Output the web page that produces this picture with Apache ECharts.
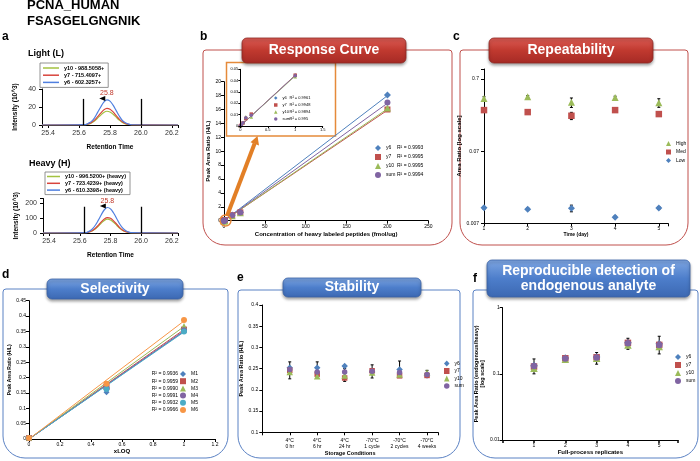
<!DOCTYPE html>
<html>
<head>
<meta charset="utf-8">
<title>PCNA_HUMAN FSASGELGNGNIK</title>
<script src="https://cdn.jsdelivr.net/npm/echarts@6.0.0/dist/echarts.min.js"></script>
<style>
html, body { margin: 0; padding: 0; background: #fff; }
#chart { width: 700px; height: 461px; }
</style>
</head>
<body>
<div id="chart"></div>
<script>
var FONT = '"Liberation Sans", Arial, Helvetica, sans-serif';
var BLUE = '#4f81bd', RED = '#c0504d', GREEN = '#9bbb59', PURPLE = '#8064a2', AQUA = '#4bacc6', ORANGE = '#f79646';

// a - chromatograms, intensity in 10^3
var rtX = [25.36, 25.64, 25.66, 25.68, 25.70, 25.72, 25.74, 25.76, 25.78, 25.80, 25.82, 25.84, 25.86, 25.88, 25.90, 25.92, 25.94, 26.24];
var lightY10 = [0, 0.3, 1, 2.3, 4.5, 7.6, 11, 14, 15.3, 14.5, 12, 8.7, 5.4, 2.9, 1.3, 0.6, 0.2, 0];
var lightY7 = [0, 0.4, 1.3, 2.8, 5.4, 9.2, 13.3, 16.8, 18.5, 17.6, 14.5, 10.5, 6.5, 3.5, 1.6, 0.7, 0.2, 0];
var lightY6 = [0, 0.5, 2, 4, 8, 14, 20, 25.5, 28, 26.5, 22, 16, 10, 5, 2.5, 1, 0.3, 0];
var heavyY10 = [0, 2, 6, 13, 27, 45, 66, 84, 92, 87, 72, 52, 32, 17, 8, 3, 1, 0];
var heavyY7 = [0, 2, 7, 15, 30, 51, 74, 94, 103, 98, 81, 59, 36, 19, 9, 4, 1, 0];
var heavyY6 = [0, 3, 11, 25, 50, 84, 122, 155, 170, 161, 133, 97, 60, 32, 15, 6, 2, 0];
var lightNames = ['y10 - 988.5058+', 'y7 - 715.4097+', 'y6 - 602.3257+'];
var heavyNames = ['y10 - 996.5200+ (heavy)', 'y7 - 723.4239+ (heavy)', 'y6 - 610.3398+ (heavy)'];
var chromColors = ['#a3c240', '#d8443c', '#4f7fdf'];
var peakRT = 25.78;
var boundaryRT = [25.63, 26.0];

// b - response curve
var bConc = [0, 0.02, 0.05, 0.1, 0.2, 1, 10, 20, 200];
var bY6 = [0, 0.001, 0.0028, 0.0070, 0.0098, 0.0450, 0.82, 1.22, 18.1];
var bY7 = [0, 0.001, 0.0027, 0.0065, 0.0105, 0.0448, 0.78, 1.20, 16.0];
var bY10 = [0, 0.0012, 0.0030, 0.0082, 0.0080, 0.0435, 0.70, 1.14, 16.2];
var bSum = [0, 0.001, 0.0028, 0.0072, 0.0095, 0.0444, 0.77, 1.19, 17.0];
var bNames = ['y6', 'y7', 'y10', 'sum'];
var bR2 = ['0.9993', '0.9995', '0.9995', '0.9994'];
var bInsetR2 = ['0.9961', '0.9948', '0.9894', '0.995'];
var bFitX = [0, 200];
var bFitEnd = [18.0, 15.9, 16.1, 16.9];
var bInsetFitX = [0, 1];
var bInsetFitEnd = [0.0447, 0.0448, 0.0440, 0.0445];

// c - repeatability (log scale)
var cDays = [1, 2, 3, 4, 5];
var cHigh = [0.378, 0.398, 0.333, 0.390, 0.329];
var cMed = [0.260, 0.244, 0.217, 0.260, 0.229];
var cLow = [0.0115, 0.0110, 0.0113, 0.0085, 0.0114];
var cHighErr = [0.02, 0.015, 0.05, 0.015, 0.045];
var cMedErr = [0.01, 0.01, 0.025, 0.01, 0.012];
var cLowErr = [0.0005, 0.0004, 0.0012, 0.0003, 0.0005];

// d - selectivity
var dLOQ = [0, 0.5, 1];
var dM1 = [0.003, 0.152, 0.352];
var dM2 = [0.003, 0.170, 0.356];
var dM3 = [0.003, 0.176, 0.368];
var dM4 = [0.003, 0.165, 0.354];
var dM5 = [0.003, 0.163, 0.350];
var dM6 = [0.003, 0.180, 0.387];
var dNames = ['M1', 'M2', 'M3', 'M4', 'M5', 'M6'];
var dR2 = ['0.9936', '0.9959', '0.9990', '0.9991', '0.9932', '0.9966'];
var dFitX = [0, 1];
var dFitEnd = [0.350, 0.356, 0.366, 0.352, 0.348, 0.384];

// e - stability
var eConds = ['4°C\n0 hr', '4°C\n6 hr', '4°C\n24 hr', '-70°C\n1 cycle', '-70°C\n2 cycles', '-70°C\n4 weeks'];
var ePos = [1, 2, 3, 4, 5, 6];
var eY6 = [0.252, 0.252, 0.256, 0.242, 0.248, 0.234];
var eY7 = [0.246, 0.237, 0.228, 0.245, 0.233, 0.234];
var eY10 = [0.242, 0.232, 0.234, 0.241, 0.236, 0.241];
var eSum = [0.248, 0.242, 0.242, 0.244, 0.241, 0.236];
var eErrLo = [0.226, 0.237, 0.220, 0.228, 0.230, 0.230];
var eErrHi = [0.266, 0.266, 0.250, 0.259, 0.268, 0.246];

// f - endogenous analyte (log scale)
var fRep = [1, 2, 3, 4, 5];
var fY6 = [0.133, 0.173, 0.179, 0.297, 0.284];
var fY7 = [0.129, 0.172, 0.178, 0.294, 0.274];
var fY10 = [0.122, 0.166, 0.172, 0.274, 0.258];
var fSum = [0.131, 0.171, 0.177, 0.290, 0.272];
var fErrLo = [0.100, 0.158, 0.140, 0.235, 0.200];
var fErrHi = [0.168, 0.182, 0.210, 0.345, 0.370];

var symbolOf = { y6: 'diamond', y7: 'rect', y10: 'triangle', sum: 'circle' };
var colorOf = { y6: BLUE, y7: RED, y10: GREEN, sum: PURPLE };
var sizeOf = { y6: 7, y7: 6, y10: 7, sum: 6 };

function zip(xs, ys) {
    return xs.map(function(x, i) { return [x, ys[i]]; });
}
function logC(v) { return Math.log10(v / 0.007); }
function logF(v) { return Math.log10(v / 0.01); }
function isInt(v) { return Math.abs(v - Math.round(v)) < 1e-6; }
function stripName(name) { return name.split('|')[1]; }

function ax(gi, o) {
    var a = {
        gridIndex: gi, type: 'value',
        axisLine: { show: true, onZero: false, lineStyle: { color: '#000', width: 1 } },
        axisTick: { show: true, length: 3, lineStyle: { color: '#000' } },
        splitLine: { show: false },
        axisLabel: { fontSize: 5, color: '#000', margin: 3 },
        nameLocation: 'middle',
        nameTextStyle: { fontSize: 6, fontWeight: 'bold', color: '#000' }
    };
    for (var k in o) {
        if (o[k] && typeof o[k] === 'object' && !Array.isArray(o[k]) && a[k]) Object.assign(a[k], o[k]);
        else a[k] = o[k];
    }
    return a;
}

function errSeries(gi, xs, lo, hi, cap) {
    return {
        type: 'custom', xAxisIndex: gi, yAxisIndex: gi, z: 1, silent: true,
        data: xs.map(function(x, i) { return [x, lo[i], hi[i]]; }),
        renderItem: function(params, api) {
            var p = api.coord([api.value(0), api.value(1)]);
            var q = api.coord([api.value(0), api.value(2)]);
            var st = { stroke: '#000', lineWidth: 1 };
            return { type: 'group', children: [
                { type: 'line', shape: { x1: p[0], y1: p[1], x2: q[0], y2: q[1] }, style: st },
                { type: 'line', shape: { x1: p[0] - cap, y1: p[1], x2: p[0] + cap, y2: p[1] }, style: st },
                { type: 'line', shape: { x1: q[0] - cap, y1: q[1], x2: q[0] + cap, y2: q[1] }, style: st }
            ] };
        }
    };
}

function scat(gi, name, key, data, size) {
    return {
        type: 'scatter', name: name, xAxisIndex: gi, yAxisIndex: gi, z: 3,
        symbol: symbolOf[key], symbolSize: size || sizeOf[key],
        itemStyle: { color: colorOf[key], opacity: 1 },
        data: data
    };
}

function trend(gi, data, color, w) {
    return {
        type: 'line', xAxisIndex: gi, yAxisIndex: gi, z: 2, silent: true,
        showSymbol: false, symbol: 'none', data: data,
        lineStyle: { color: color, width: w || 1 }
    };
}

var grids = [
    { left: 42, top: 89, width: 136, height: 36 },
    { left: 43, top: 198.5, width: 135, height: 34.5 },
    { left: 224, top: 81.7, width: 204.3, height: 139 },
    { left: 240.3, top: 69.3, width: 82.4, height: 56.7 },
    { left: 484, top: 69, width: 184, height: 154.3 },
    { left: 29, top: 300.7, width: 186, height: 138.3 },
    { left: 262.3, top: 305, width: 175.7, height: 127.3 },
    { left: 502.7, top: 307.7, width: 175.3, height: 132.3 }
];

var rtLabel = function(v) { return isInt(v * 5) && v > 25.37 && v < 26.23 ? v.toFixed(1) : ''; };

var xAxes = [
    ax(0, { min: 25.36, max: 26.24, axisLabel: { fontSize: 7, color: '#333', margin: 5, formatter: rtLabel }, name: 'Retention Time', nameGap: 19, nameTextStyle: { fontSize: 6.5 } }),
    ax(1, { min: 25.36, max: 26.24, axisLabel: { fontSize: 7, color: '#333', margin: 5, formatter: rtLabel }, name: 'Retention Time', nameGap: 19, nameTextStyle: { fontSize: 6.5 } }),
    ax(2, { min: 0, max: 250, interval: 50, name: 'Concentration of heavy labeled peptides (fmol/ug)', nameGap: 11 }),
    ax(3, { z: 6, min: 0, max: 1.5, interval: 0.5, axisLabel: { fontSize: 4, margin: 2 }, axisTick: { length: 2 } }),
    ax(4, { min: 1, max: 5.21, interval: 1, axisLabel: { formatter: function(v) { return isInt(v) ? v : ''; } }, name: 'Time (day)', nameGap: 6, nameTextStyle: { fontSize: 5 } }),
    ax(5, { min: 0, max: 1.2, interval: 0.2, axisLabel: { formatter: function(v) { return +v.toFixed(1); } }, name: 'xLOQ', nameGap: 7 }),
    ax(6, { min: 0, max: 6.4, interval: 1, axisLabel: { margin: 5, lineHeight: 6, formatter: function(v) { var i = Math.round(v); return isInt(v) && i >= 1 && i <= 6 ? eConds[i - 1] : ''; } }, name: 'Storage Conditions', nameGap: 17, nameTextStyle: { fontSize: 5.5 } }),
    ax(7, { min: 0, max: 5.6, interval: 1, axisTick: { length: 3, lineStyle: { width: 1.5 } }, axisLabel: { formatter: function(v) { return isInt(v) && v >= 1 ? v : ''; } }, name: 'Full-process replicates', nameGap: 8 })
];

var yAxes = [
    ax(0, { min: 0, max: 40, interval: 20, axisLabel: { fontSize: 7, color: '#333', margin: 6 }, name: 'Intensity (10^3)', nameGap: 23, nameTextStyle: { fontSize: 6.5 } }),
    ax(1, { min: 0, max: 230, interval: 100, axisLabel: { fontSize: 7, color: '#333', margin: 6, formatter: function(v) { return v % 100 === 0 ? v : ''; } }, name: 'Intensity (10^3)', nameGap: 23, nameTextStyle: { fontSize: 6.5 } }),
    ax(2, { min: 0, max: 20, interval: 2, name: 'Peak Area Ratio (H/L)', nameGap: 12 }),
    ax(3, { z: 6, min: 0, max: 0.05, interval: 0.01, axisLabel: { fontSize: 4, margin: 2, formatter: function(v) { return +v.toFixed(2); } }, axisTick: { length: 2 } }),
    ax(4, { min: 0, max: 2.14, interval: 1, axisLabel: { margin: 5, formatter: function(v) { return isInt(v) ? +(0.007 * Math.pow(10, Math.round(v))).toPrecision(1) : ''; } }, name: 'Area Ratio [log scale]', nameGap: 17 }),
    ax(5, { min: 0, max: 0.45, interval: 0.05, axisLabel: { formatter: function(v) { return +v.toFixed(2); } }, name: 'Peak Area Ratio (H/L)', nameGap: 15, nameTextStyle: { fontSize: 5 } }),
    ax(6, { min: 0.1, max: 0.4, interval: 0.05, axisLabel: { margin: 4, formatter: function(v) { return +v.toFixed(2); } }, name: 'Peak Area Ratio (H/L)', nameGap: 15, nameTextStyle: { fontSize: 5.5 } }),
    ax(7, { min: 0, max: 2, interval: 1, axisLabel: { formatter: function(v) { return isInt(v) ? +(0.01 * Math.pow(10, Math.round(v))).toPrecision(1) : ''; } }, name: 'Peak Area Ratio (endogenous/heavy)\n[log scale]', nameGap: 9, nameTextStyle: { fontSize: 5.5, lineHeight: 6.5 } })
];

var series = [];

// a: chromatograms
function chrom(gi, prefix, names, ys, boundTop, peakVal, triY, labelDist) {
    ys.forEach(function(y, i) {
        var s = {
            type: 'line', name: prefix + '|' + names[i], xAxisIndex: gi, yAxisIndex: gi,
            data: zip(rtX, y), smooth: 0.35, showSymbol: false, symbol: 'none',
            lineStyle: { color: chromColors[i], width: 1.2 }, itemStyle: { color: chromColors[i] }
        };
        if (i === 0) {
            s.markLine = {
                silent: true, symbol: ['none', 'none'], label: { show: false },
                lineStyle: { color: '#000', width: 1.3, type: 'solid' },
                data: boundaryRT.map(function(b) { return [{ coord: [b, 0] }, { coord: [b, boundTop] }]; })
            };
        }
        if (i === 2) {
            s.markPoint = {
                silent: true,
                data: [
                    { coord: [peakRT, peakVal], symbol: 'circle', symbolSize: 1, itemStyle: { color: 'rgba(0,0,0,0)' },
                      label: { show: true, position: 'top', distance: labelDist, formatter: '25.8', color: '#c0392b', fontSize: 7 } },
                    { coord: [25.75, triY], symbol: 'triangle', symbolRotate: 90, symbolSize: [5, 6], itemStyle: { color: '#000' }, label: { show: false } }
                ]
            };
        }
        series.push(s);
    });
}
chrom(0, 'L', lightNames, [lightY10, lightY7, lightY6], 29, 28, 29.4, 3);
chrom(1, 'H', heavyNames, [heavyY10, heavyY7, heavyY6], 175, 170, 180, 2);

// b: response curve + inset
var bVals = [bY6, bY7, bY10, bSum];
bNames.forEach(function(k, i) {
    series.push(trend(2, [[bFitX[0], 0], [bFitX[1], bFitEnd[i]]], colorOf[k], 1));
    series.push(scat(2, 'b|' + k, k, zip(bConc, bVals[i])));
});
bNames.forEach(function(k, i) {
    series.push(trend(3, [[bInsetFitX[0], 0], [bInsetFitX[1], bInsetFitEnd[i]]], colorOf[k], 0.7));
    series.push(scat(3, 'bi|' + k, k, zip(bConc, bVals[i]).filter(function(p) { return p[0] <= 1.5; }), 3.5));
});

// c: repeatability
function cErr(vals, errs, sign) {
    return vals.map(function(v, i) { return logC(v + sign * errs[i]); });
}
series.push(errSeries(4, cDays, cErr(cHigh, cHighErr, -1), cErr(cHigh, cHighErr, 1), 1.5));
series.push(errSeries(4, cDays, cErr(cMed, cMedErr, -1), cErr(cMed, cMedErr, 1), 1.5));
series.push(errSeries(4, cDays, cErr(cLow, cLowErr, -1), cErr(cLow, cLowErr, 1), 1.5));
series.push({ type: 'scatter', name: 'c|High', xAxisIndex: 4, yAxisIndex: 4, z: 3, symbol: 'triangle', symbolSize: 7, itemStyle: { color: GREEN, opacity: 1 }, data: zip(cDays, cHigh.map(logC)) });
series.push({ type: 'scatter', name: 'c|Med', xAxisIndex: 4, yAxisIndex: 4, z: 3, symbol: 'rect', symbolSize: 6.5, itemStyle: { color: RED, opacity: 1 }, data: zip(cDays, cMed.map(logC)) });
series.push({ type: 'scatter', name: 'c|Low', xAxisIndex: 4, yAxisIndex: 4, z: 3, symbol: 'diamond', symbolSize: 7, itemStyle: { color: BLUE, opacity: 1 }, data: zip(cDays, cLow.map(logC)) });

// d: selectivity
var dVals = [dM1, dM2, dM3, dM4, dM5, dM6];
var dColors = [BLUE, RED, GREEN, PURPLE, AQUA, ORANGE];
var dSymbols = ['diamond', 'rect', 'triangle', 'circle', 'circle', 'circle'];
dNames.forEach(function(k, i) {
    series.push(trend(5, [[dFitX[0], 0], [dFitX[1], dFitEnd[i]]], dColors[i], 1));
    series.push({ type: 'scatter', name: 'd|' + k, xAxisIndex: 5, yAxisIndex: 5, z: 3, symbol: dSymbols[i], symbolSize: 6, itemStyle: { color: dColors[i], opacity: 1 }, data: zip(dLOQ, dVals[i]) });
});

// e: stability
series.push(errSeries(6, ePos, eErrLo, eErrHi, 1.5));
var eVals = [eY6, eY7, eY10, eSum];
bNames.forEach(function(k, i) {
    series.push(scat(6, 'e|' + k, k, zip(ePos, eVals[i]), sizeOf[k] - 0.5));
});

// f: endogenous analyte
series.push(errSeries(7, fRep, fErrLo.map(logF), fErrHi.map(logF), 1.5));
var fVals = [fY6, fY7, fY10, fSum];
bNames.forEach(function(k, i) {
    series.push(scat(7, 'f|' + k, k, zip(fRep, fVals[i].map(logF)), sizeOf[k] + 0.5));
});

function lg(o) {
    var base = {
        orient: 'vertical', itemWidth: 6, itemHeight: 6, itemGap: 2, padding: 0,
        selectedMode: false, formatter: stripName,
        textStyle: { fontSize: 5, color: '#000', lineHeight: 6 }
    };
    for (var k in o) {
        if (k === 'textStyle') Object.assign(base.textStyle, o[k]);
        else base[k] = o[k];
    }
    return base;
}
function r2Legend(names, r2s) {
    return function(name) {
        var k = stripName(name);
        return '{n|' + k + '}{r|R² = ' + r2s[names.indexOf(k)] + '}';
    };
}

var legends = [
    lg({ left: 40, top: 63, itemWidth: 16, itemHeight: 1.5, itemGap: 1.2, icon: 'rect', padding: [2, 4, 2, 3],
         borderColor: '#777', borderWidth: 0.8, backgroundColor: '#fff',
         textStyle: { fontSize: 5.5, fontWeight: 'bold', lineHeight: 6 },
         data: lightNames.map(function(n) { return 'L|' + n; }) }),
    lg({ left: 45, top: 172, itemWidth: 13, itemHeight: 1.5, itemGap: 0.8, icon: 'rect', padding: [1.5, 4, 1.5, 2],
         borderColor: '#777', borderWidth: 0.8, backgroundColor: '#fff',
         textStyle: { fontSize: 5.5, fontWeight: 'bold', lineHeight: 6 },
         data: heavyNames.map(function(n) { return 'H|' + n; }) }),
    lg({ left: 375, top: 145, itemGap: 3,
         formatter: r2Legend(bNames, bR2),
         textStyle: { rich: { n: { width: 11, fontSize: 5 }, r: { fontSize: 5 } } },
         data: bNames.map(function(n) { return 'b|' + n; }) }),
    lg({ left: 274, top: 95.5, itemWidth: 3.5, itemHeight: 3.5, itemGap: 2, z: 8,
         formatter: r2Legend(bNames, bInsetR2),
         textStyle: { fontSize: 4, lineHeight: 5, rich: { n: { width: 7, fontSize: 4 }, r: { fontSize: 4 } } },
         data: bNames.map(function(n) { return 'bi|' + n; }) }),
    lg({ left: 666, top: 140.5, itemGap: 2.5, itemWidth: 5, itemHeight: 5,
         data: ['c|High', 'c|Med', 'c|Low'] }),
    lg({ left: 180, top: 371, itemGap: 1.2,
         data: dNames.map(function(n) { return 'd|' + n; }) }),
    lg({ left: 444, top: 360.5, itemGap: 1.5, itemWidth: 5.5,
         data: bNames.map(function(n) { return 'e|' + n; }) }),
    lg({ left: 675, top: 354, itemGap: 2, itemWidth: 6,
         data: bNames.map(function(n) { return 'f|' + n; }) })
];

// frames, title boxes and labels
var graphics = [];
function txt(x, y, text, font, fill, align, valign, z) {
    graphics.push({ type: 'text', x: x, y: y, z: z || 20, silent: true,
        style: { text: text, font: font, fill: fill || '#000', align: align || 'left', verticalAlign: valign || 'top',
                 textAlign: align || 'left', textVerticalAlign: valign || 'top' } });
}
function frame(x, y, w, h, color) {
    graphics.push({ type: 'rect', z: 0, silent: true, shape: { x: x, y: y, width: w, height: h, r: [3, 3, 22, 22] },
        style: { fill: 'none', stroke: color, lineWidth: 1 } });
}
function titleBox(x, y, w, h, text, stops, border) {
    graphics.push({ type: 'rect', z: 50, silent: true, shape: { x: x, y: y, width: w, height: h, r: 5 },
        style: { fill: new echarts.graphic.LinearGradient(0, 0, 0, 1, stops), stroke: border, lineWidth: 0.8,
                 shadowBlur: 3, shadowOffsetY: 2, shadowColor: 'rgba(0,0,0,0.35)' } });
    graphics.push({ type: 'text', z: 51, silent: true, x: x + w / 2, y: y + h / 2,
        style: { text: text, font: 'bold 14px ' + FONT, fill: '#fff', align: 'center', verticalAlign: 'middle',
                 textAlign: 'center', textVerticalAlign: 'middle', lineHeight: 14.5 } });
}
var redStops = [{ offset: 0, color: '#dc5c55' }, { offset: 0.5, color: '#c0392f' }, { offset: 1, color: '#a52a25' }];
var blueStops = [{ offset: 0, color: '#7ea6e2' }, { offset: 0.5, color: '#4d7ecb' }, { offset: 1, color: '#3c68b2' }];

frame(203, 50, 249, 195, RED);
frame(460, 50, 228, 195, RED);
frame(3, 289, 225, 169, '#5b82c4');
frame(238, 290, 222, 168, '#5b82c4');
frame(473, 290, 225, 168, '#5b82c4');

titleBox(242, 38, 164, 25, 'Response Curve', redStops, '#8f2a25');
titleBox(489, 38, 164, 25, 'Repeatability', redStops, '#8f2a25');
titleBox(47, 279, 136, 20, 'Selectivity', blueStops, '#3a62a6');
titleBox(283, 278, 138, 19, 'Stability', blueStops, '#3a62a6');
titleBox(487, 260, 203, 37, 'Reproducible detection of\nendogenous analyte', blueStops, '#3a62a6');

// inset frame, orange zoom circle and arrow
graphics.push({ type: 'rect', z: 1, silent: true, shape: { x: 226.5, y: 62.5, width: 109, height: 73.5 },
    style: { fill: '#fff', stroke: '#e58a3a', lineWidth: 1.5 } });
graphics.push({ type: 'circle', z: 10, silent: true, shape: { cx: 225.5, cy: 220.5, r: 5.5 },
    style: { fill: 'none', stroke: '#e8883a', lineWidth: 1.4 } });
graphics.push({ type: 'line', z: 10, silent: true, shape: { x1: 227, y1: 216, x2: 254.6, y2: 143.5 },
    style: { stroke: '#e27f26', lineWidth: 4 } });
graphics.push({ type: 'polygon', z: 10, silent: true, shape: { points: [[257.5, 136], [259, 145.5], [250.5, 142.3]] },
    style: { fill: '#e27f26' } });

txt(27, -1, 'PCNA_HUMAN', 'bold 13px ' + FONT);
txt(27, 14.5, 'FSASGELGNGNIK', 'bold 13px ' + FONT);
txt(2, 31, 'a', 'bold 12px ' + FONT);
txt(28, 49.5, 'Light (L)', 'bold 9px ' + FONT);
txt(29, 159, 'Heavy (H)', 'bold 9px ' + FONT);
txt(200, 30.5, 'b', 'bold 12px ' + FONT);
txt(453, 30.5, 'c', 'bold 12px ' + FONT);
txt(2, 269, 'd', 'bold 12px ' + FONT);
txt(237, 272, 'e', 'bold 12px ' + FONT);
txt(473, 272.5, 'f', 'bold 12px ' + FONT);

// R² values left of the selectivity legend
dR2.forEach(function(r, i) {
    txt(178, 374 + i * 7.2, 'R² = ' + r, '5px ' + FONT, '#000', 'right', 'middle');
});

var chart = echarts.init(document.getElementById('chart'), null, { renderer: 'canvas' });
chart.setOption({
    animation: false,
    backgroundColor: '#fff',
    textStyle: { fontFamily: FONT },
    grid: grids,
    xAxis: xAxes,
    yAxis: yAxes,
    legend: legends,
    series: series,
    graphic: graphics
});
</script>
</body>
</html>
